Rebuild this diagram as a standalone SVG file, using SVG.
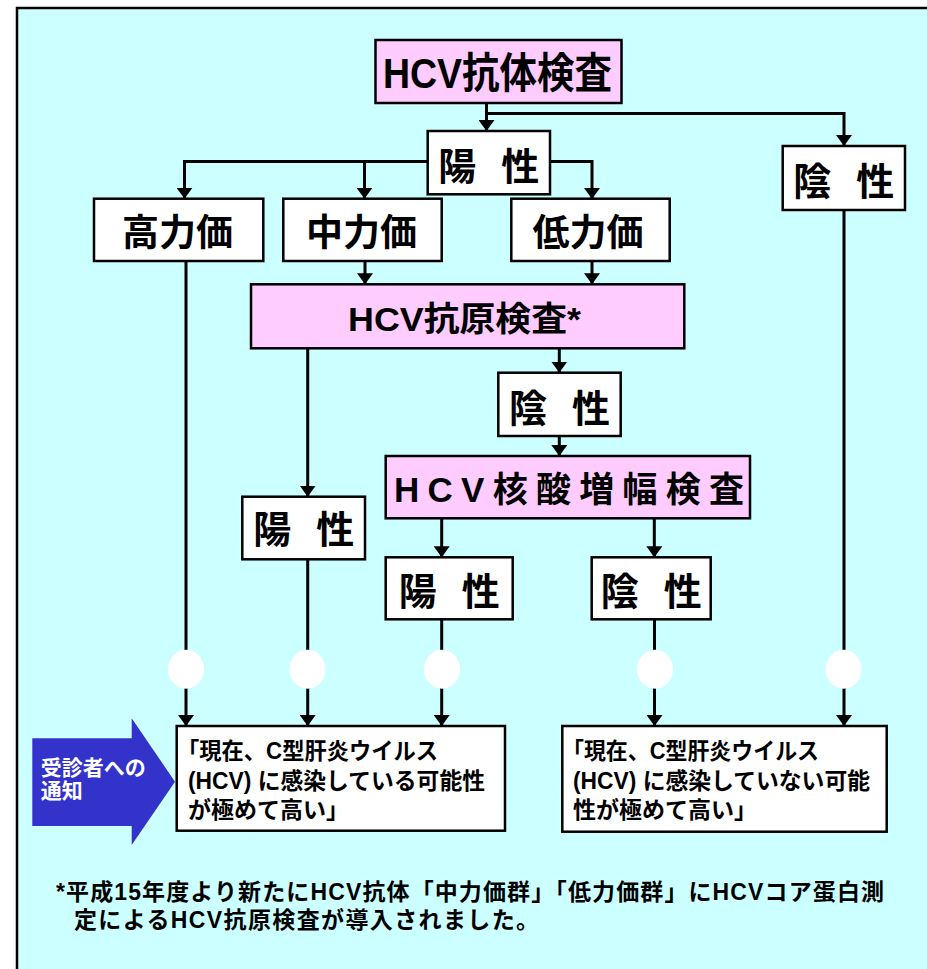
<svg xmlns="http://www.w3.org/2000/svg" width="927" height="969" viewBox="0 0 927 969">
<defs>
<style>
text{font-family:"Liberation Sans","Noto Sans CJK JP",sans-serif;font-weight:bold;fill:#000}
.box{fill:#fff;stroke:#000;stroke-width:2.5}
.pink{fill:#FFCCFF;stroke:#000;stroke-width:2.5}
.con{fill:none;stroke:#000;stroke-width:3}
.dot{fill:#fff;stroke:none}
.lbl{font-size:38px;text-anchor:middle}
.tier{font-size:37px;text-anchor:middle}
.res{font-size:23px}
.note{font-size:23px}
.wt{fill:#fff;font-size:21px}
</style>
<marker id="ah" viewBox="0 0 11 16" refX="11" refY="8" markerWidth="11" markerHeight="16" orient="auto" markerUnits="userSpaceOnUse">
<path d="M0,0 L11,8 L0,16 z" fill="#000"/>
</marker>
</defs>
<rect x="0" y="0" width="927" height="969" fill="#fff"/>
<rect x="17" y="8" width="1000" height="1000" fill="#CCFFFF" stroke="#000" stroke-width="2.5"/>

<g id="connectors">
<path class="con" d="M486.5,103 V131" marker-end="url(#ah)"/>
<path class="con" d="M486.5,113.5 H844 V146" marker-end="url(#ah)"/>
<path class="con" d="M427.7,161.5 H184.5 V198.7" marker-end="url(#ah)"/>
<path class="con" d="M364.5,161.5 V198.7" marker-end="url(#ah)"/>
<path class="con" d="M550,161.5 H592 V199" marker-end="url(#ah)"/>
<path class="con" d="M365,261 V284.3" marker-end="url(#ah)"/>
<path class="con" d="M592,261 V284.3" marker-end="url(#ah)"/>
<path class="con" d="M307.7,348.3 V496.7" marker-end="url(#ah)"/>
<path class="con" d="M559.3,348.3 V372.7" marker-end="url(#ah)"/>
<path class="con" d="M559.3,436 V456" marker-end="url(#ah)"/>
<path class="con" d="M441.7,518 V557.3" marker-end="url(#ah)"/>
<path class="con" d="M654.3,518 V557.3" marker-end="url(#ah)"/>
<path class="con" d="M186,261 V726" marker-end="url(#ah)"/>
<path class="con" d="M307.7,559.3 V726" marker-end="url(#ah)"/>
<path class="con" d="M441.7,619.3 V726" marker-end="url(#ah)"/>
<path class="con" d="M654.5,619.3 V726" marker-end="url(#ah)"/>
<path class="con" d="M844,210 V726" marker-end="url(#ah)"/>
<ellipse class="dot" cx="186" cy="669.3" rx="18" ry="19.5"/>
<ellipse class="dot" cx="307.5" cy="669.3" rx="18" ry="19.5"/>
<ellipse class="dot" cx="442" cy="669.3" rx="18" ry="19.5"/>
<ellipse class="dot" cx="655" cy="669.3" rx="18" ry="19.5"/>
<ellipse class="dot" cx="843.5" cy="669.3" rx="18" ry="19.5"/>
</g>

<g id="antibody-test">
<rect class="pink" x="375.5" y="40" width="246" height="63"/>
<text x="383" y="88" font-size="42" textLength="229" lengthAdjust="spacingAndGlyphs">HCV抗体検査</text>
</g>
<g id="positive-top">
<rect class="box" x="427.7" y="131" width="122.3" height="63.3"/>
<text class="lbl" x="457.3 520.3" y="180">陽性</text>
</g>
<g id="negative-right">
<rect class="box" x="782.7" y="146" width="122.3" height="64"/>
<text class="lbl" x="812.3 875.3" y="195">陰性</text>
</g>
<g id="high-titer">
<rect class="box" x="94" y="198.7" width="169.3" height="62.3"/>
<text class="tier" x="177.5" y="246">高力価</text>
</g>
<g id="mid-titer">
<rect class="box" x="283.3" y="198.7" width="158.4" height="62.3"/>
<text class="tier" x="361.5" y="246">中力価</text>
</g>
<g id="low-titer">
<rect class="box" x="511.3" y="198.7" width="158.4" height="62.3"/>
<text class="tier" x="588" y="246">低力価</text>
</g>
<g id="antigen-test">
<rect class="pink" x="251" y="284.3" width="433.3" height="64"/>
<text x="348" y="331" font-size="34" textLength="233" lengthAdjust="spacingAndGlyphs">HCV抗原検査*</text>
</g>
<g id="negative-mid">
<rect class="box" x="498.3" y="372.7" width="122.4" height="63.3"/>
<text class="lbl" x="528 591" y="422">陰性</text>
</g>
<g id="nat-test">
<rect class="pink" x="385.7" y="456" width="364.3" height="62.3"/>
<text x="394" y="502" font-size="35" textLength="350" lengthAdjust="spacing">HCV核酸増幅検査</text>
</g>
<g id="positive-left">
<rect class="box" x="242.3" y="496.7" width="122.7" height="62.6"/>
<text class="lbl" x="272.2 335.2" y="543">陽性</text>
</g>
<g id="positive-bottom">
<rect class="box" x="385.7" y="557.3" width="127" height="62"/>
<text class="lbl" x="417.7 480.7" y="605">陽性</text>
</g>
<g id="negative-bottom">
<rect class="box" x="591.7" y="557.3" width="119" height="62"/>
<text class="lbl" x="619.7 682.7" y="605">陰性</text>
</g>
<g id="notice-arrow">
<polygon points="32.3,738.3 131.7,738.3 131.7,718.3 175,781.7 131.7,845 131.7,826 32.3,826" fill="#3333CC"/>
<text class="wt" x="40.7" y="775">受診者への</text>
<text class="wt" x="40.7" y="798">通知</text>
</g>
<g id="result-infected">
<rect class="box" x="176.7" y="726" width="328.3" height="104.7"/>
<text class="res" x="177" y="759" textLength="261" lengthAdjust="spacingAndGlyphs">「現在、C型肝炎ウイルス</text>
<text class="res" x="188" y="789" textLength="297" lengthAdjust="spacingAndGlyphs">(HCV) に感染している可能性</text>
<text class="res" x="188" y="818">が極めて高い」</text>
</g>
<g id="result-not-infected">
<rect class="box" x="562.3" y="726" width="324.4" height="105.7"/>
<text class="res" x="562" y="759" textLength="257" lengthAdjust="spacingAndGlyphs">「現在、C型肝炎ウイルス</text>
<text class="res" x="573" y="789" textLength="297" lengthAdjust="spacingAndGlyphs">(HCV) に感染していない可能</text>
<text class="res" x="573" y="818">性が極めて高い」</text>
</g>
<g id="footnote">
<text class="note" x="56" y="900" textLength="828">*平成15年度より新たにHCV抗体「中力価群」「低力価群」にHCVコア蛋白測</text>
<text class="note" x="74" y="928" textLength="465">定によるHCV抗原検査が導入されました。</text>
</g>
</svg>
